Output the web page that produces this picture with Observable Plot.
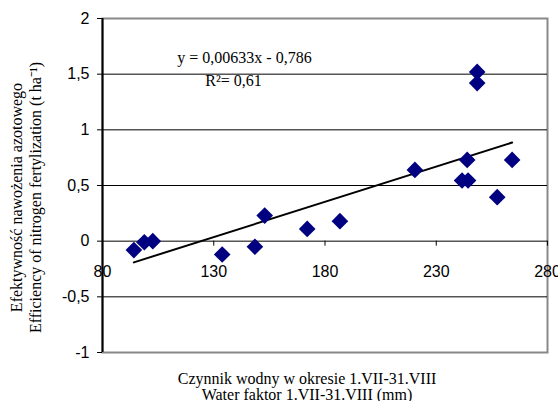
<!DOCTYPE html>
<html>
<head>
<meta charset="utf-8">
<script src="https://cdn.jsdelivr.net/npm/d3@7"></script>
<script src="https://cdn.jsdelivr.net/npm/@observablehq/plot@0.6"></script>
<style>
  html, body { margin: 0; padding: 0; background: #fff; }
</style>
</head>
<body>
<div id="chart"></div>
<script>
// Data
const waterFactor = [94.1, 98.8, 102.6, 133.8, 148.5, 152.9, 172.0, 186.7, 220.4, 241.6, 244.3, 243.9, 248.4, 248.4, 264.1, 257.4];
const nEfficiency = [-0.08, -0.01, 0.0, -0.12, -0.05, 0.23, 0.11, 0.18, 0.64, 0.545, 0.545, 0.73, 1.52, 1.42, 0.73, 0.395];
const slope = 0.00633;
const intercept = -0.786;
const xTicks = [80, 130, 180, 230, 280];
const yTicks = [-1, -0.5, 0, 0.5, 1, 1.5, 2];
const gridValues = [-0.5, 0, 0.5, 1, 1.5];
const equationLabel = "y = 0,00633x - 0,786";
const r2Label = "R\u00B2= 0,61";
const yTitle1 = "Efektywność nawożenia azotowego";
const yTitle2 = "Efficiency of nitrogen fertylization (t ha\u207B\u00B9)";
const xTitle1 = "Czynnik wodny w okresie 1.VII-31.VIII";
const xTitle2 = "Water faktor 1.VII-31.VIII (mm)";

const points = waterFactor.map((x, i) => ({x, y: nEfficiency[i]}));
const [xMin, xMax] = d3.extent(waterFactor);
const fitLine = [xMin, xMax].map(x => ({x, y: slope * x + intercept}));
const comma = d => String(d).replace(".", ",");

const serif = "'Liberation Serif', 'Times New Roman', serif";
const sans = "'Liberation Sans', Arial, sans-serif";

const chart = Plot.plot({
  width: 558,
  height: 401,
  marginLeft: 102,
  marginRight: 11,
  marginTop: 18,
  marginBottom: 49,
  style: {fontFamily: sans, fontSize: "16px", background: "#fff", color: "#000", overflow: "visible"},
  x: {domain: [80, 280], axis: null},
  y: {domain: [-1, 2], axis: null},
  marks: [
    Plot.frame({stroke: "#888", strokeWidth: 2}),
    Plot.ruleY(gridValues, {stroke: "#000", strokeWidth: 1}),
    Plot.ruleX([80], {stroke: "#000", strokeWidth: 2}),
    Plot.axisY({ticks: yTicks, tickFormat: comma, tickSize: 5, tickPadding: 8, fontSize: 16, fontFamily: sans, label: null, stroke: "#000"}),
    Plot.ruleX(xTicks, {x: d => d, y1: 0, y2: 0, insetBottom: -5, stroke: "#000", strokeWidth: 1}),
    Plot.text(xTicks, {x: d => d, y: 0, dy: 31, text: d => String(d), fontSize: 16, fontFamily: sans, fill: "#000"}),
    Plot.line(fitLine, {x: "x", y: "y", stroke: "#000", strokeWidth: 2}),
    Plot.dot(points, {x: "x", y: "y", symbol: "diamond2", r: 7.5, fill: "#000080", stroke: "none"}),
    Plot.text([equationLabel], {frameAnchor: "top-left", dx: 142, dy: 44, text: d => d, lineAnchor: "bottom", textAnchor: "middle", fontFamily: serif, fontSize: 16, fill: "#000"}),
    Plot.text([r2Label], {frameAnchor: "top-left", dx: 131, dy: 67, text: d => d, lineAnchor: "bottom", textAnchor: "middle", fontFamily: serif, fontSize: 16, fill: "#000"}),
    Plot.text([yTitle1], {frameAnchor: "left", dx: -86, dy: 12, rotate: -90, textAnchor: "middle", text: d => d, fontFamily: serif, fontSize: 16, fill: "#000"}),
    Plot.text([yTitle2], {frameAnchor: "left", dx: -67, dy: 12, rotate: -90, textAnchor: "middle", text: d => d, fontFamily: serif, fontSize: 16, fill: "#000"}),
    Plot.text([xTitle1], {frameAnchor: "bottom", dx: -18, dy: 31, lineAnchor: "bottom", textAnchor: "middle", text: d => d, fontFamily: serif, fontSize: 16, fill: "#000"}),
    Plot.text([xTitle2], {frameAnchor: "bottom", dx: -18, dy: 47, lineAnchor: "bottom", textAnchor: "middle", text: d => d, fontFamily: serif, fontSize: 16, fill: "#000"})
  ]
});
document.getElementById("chart").appendChild(chart);
</script>
</body>
</html>
